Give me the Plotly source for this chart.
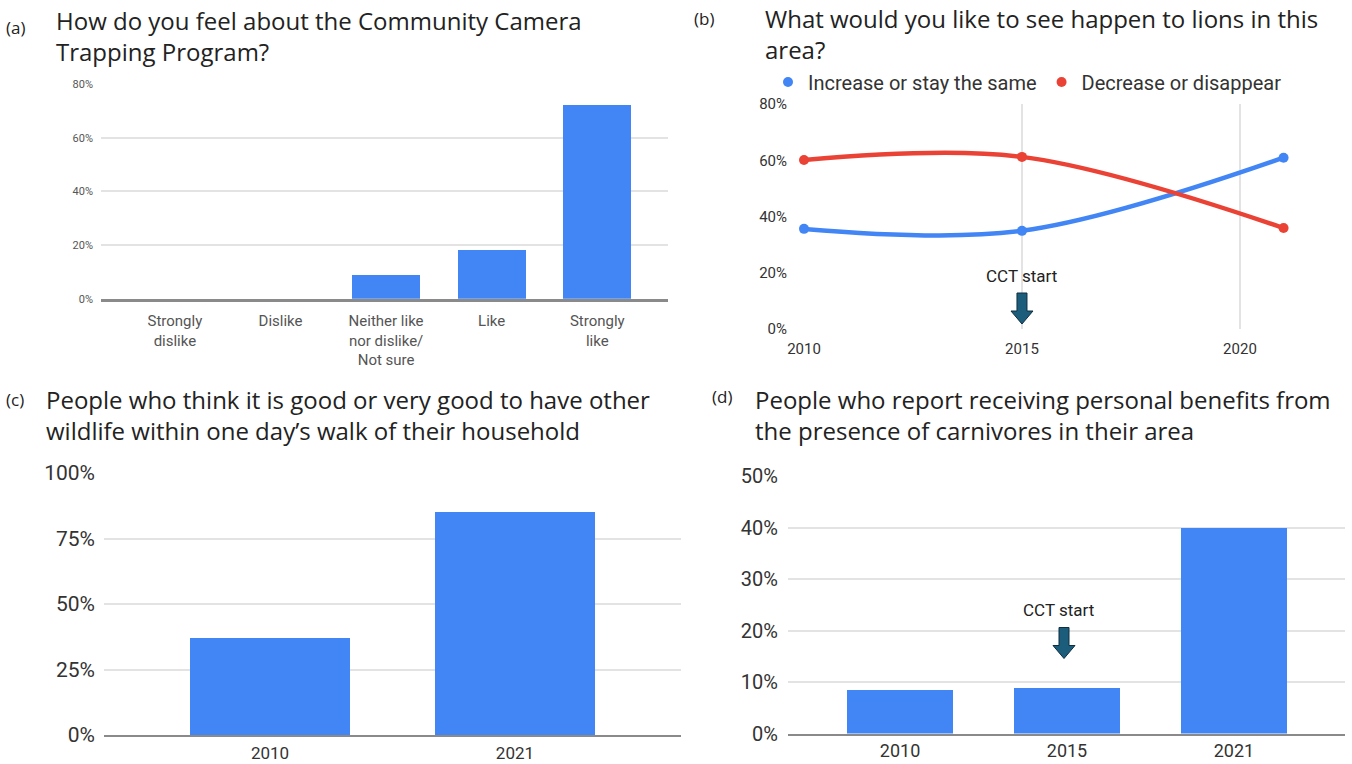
import plotly.graph_objects as go

W, H = 1352, 764

# ---------------- data ----------------
a_categories = ["Strongly<br>dislike", "Dislike", "Neither like<br>nor dislike/<br>Not sure", "Like", "Strongly<br>like"]
a_values = [0.0, 0.0, 0.09, 0.18, 0.72]

b_years = [2010, 2015, 2021]
b_increase = [0.356, 0.349, 0.609]
b_decrease = [0.601, 0.612, 0.359]

c_categories = ["2010", "2021"]
c_values = [0.37, 0.852]

d_categories = ["2010", "2015", "2021"]
d_values = [0.084, 0.089, 0.399]

BLUE = "#4285F4"
RED = "#EA4335"
GRID = "#e3e3e3"
AXIS = "#8a8a8a"
TITLE_FONT = "Open Sans, Noto Sans, sans-serif"
TICK_FONT = "Liberation Sans Narrow, Roboto, Arial, sans-serif"


def xd(p0, p1):
    return [p0 / W, p1 / W]


def yd(top, bottom):
    return [1 - bottom / H, 1 - top / H]


fig = go.Figure()

# (a) bar chart
fig.add_trace(go.Bar(x=a_categories, y=a_values, marker_color=BLUE, width=0.645,
                     xaxis="x", yaxis="y", showlegend=False))

# (b) line chart
fig.add_trace(go.Scatter(x=b_years, y=b_increase, mode="lines", line=dict(color=BLUE, width=4.5, shape="spline", smoothing=1.0),
                         xaxis="x2", yaxis="y2", showlegend=False, cliponaxis=False))
fig.add_trace(go.Scatter(x=b_years, y=b_decrease, mode="lines", line=dict(color=RED, width=4.5, shape="spline", smoothing=1.0),
                         xaxis="x2", yaxis="y2", showlegend=False, cliponaxis=False))
fig.add_trace(go.Scatter(x=b_years, y=b_increase, mode="markers", marker=dict(color=BLUE, size=10),
                         name="Increase or stay the same", xaxis="x2", yaxis="y2", cliponaxis=False))
fig.add_trace(go.Scatter(x=b_years, y=b_decrease, mode="markers", marker=dict(color=RED, size=10),
                         name="Decrease or disappear", xaxis="x2", yaxis="y2", cliponaxis=False))

# (c) bar chart
fig.add_trace(go.Bar(x=c_categories, y=c_values, marker_color=BLUE, width=0.65,
                     xaxis="x3", yaxis="y3", showlegend=False))

# (d) bar chart
fig.add_trace(go.Bar(x=d_categories, y=d_values, marker_color=BLUE, width=0.64,
                     xaxis="x4", yaxis="y4", showlegend=False))

common_y = dict(tickformat=".0%", gridcolor=GRID, gridwidth=1.5, zeroline=False, showline=False, ticks="",
                automargin=False)

layout = dict(
    template="none",
    width=W, height=H,
    margin=dict(l=0, r=0, t=0, b=0, pad=0),
    paper_bgcolor="white", plot_bgcolor="white",
    bargap=0,
    # (a)
    xaxis=dict(domain=xd(101, 668), type="category", range=[-0.70, 4.67], showgrid=False,
               showline=True, linecolor=AXIS, linewidth=2.5, ticks="", automargin=False,
               ticklabelstandoff=7,
               tickfont=dict(family=TICK_FONT, size=15, color="#555"), anchor="y"),
    yaxis=dict(domain=yd(84, 298.7), range=[0, 0.8], dtick=0.2, anchor="x", ticklabelstandoff=7,
               tickfont=dict(family=TICK_FONT, size=11, color="#555"), **common_y),
    # (b)
    xaxis2=dict(domain=xd(804, 1301), range=[2010, 2021.4], tickvals=[2010, 2015, 2020],
                showgrid=True, gridcolor=GRID, gridwidth=1.5, zeroline=False, showline=False, ticks="",
                automargin=False, ticklabelstandoff=9,
                tickfont=dict(family=TICK_FONT, size=15, color="#333"), anchor="y2"),
    yaxis2=dict(domain=yd(104, 329), range=[0, 0.8], dtick=0.2, anchor="x2", showgrid=False,
                tickformat=".0%", zeroline=False, showline=False, ticks="", automargin=False,
                ticklabelstandoff=16,
                tickfont=dict(family=TICK_FONT, size=15, color="#333")),
    # (c)
    xaxis3=dict(domain=xd(104, 681), type="category", range=[-0.678, 1.678], showgrid=False,
                showline=True, linecolor=AXIS, linewidth=2, ticks="", automargin=False,
                ticklabelstandoff=2,
                tickfont=dict(family=TICK_FONT, size=17, color="#333"), anchor="y3"),
    yaxis3=dict(domain=yd(473, 735), range=[0, 1.0], dtick=0.25, anchor="x3", ticklabelstandoff=8,
                tickfont=dict(family=TICK_FONT, size=21, color="#333"), **common_y),
    # (d)
    xaxis4=dict(domain=xd(788, 1345), type="category", range=[-0.671, 2.665], showgrid=False,
                showline=True, linecolor=AXIS, linewidth=2, ticks="", automargin=False,
                tickfont=dict(family=TICK_FONT, size=18, color="#333"), anchor="y4"),
    yaxis4=dict(domain=yd(476, 733.5), range=[0, 0.5], dtick=0.1, anchor="x4", ticklabelstandoff=9,
                tickfont=dict(family=TICK_FONT, size=20, color="#333"), **common_y),
    legend=dict(orientation="h", x=768 / W, y=1 - 82 / H, xanchor="left", yanchor="middle",
                font=dict(family="Roboto, Arial, sans-serif", size=20, color="#333"),
                bgcolor="rgba(0,0,0,0)", itemwidth=30, tracegroupgap=0),
)
fig.update_layout(**layout)
fig.update_xaxes(fixedrange=True)
fig.update_yaxes(fixedrange=True)

# titles and panel labels
def add_text(x, y, text, size, color="#222", family=TITLE_FONT):
    fig.add_annotation(x=x / W, y=1 - y / H, xref="paper", yref="paper", text=text, showarrow=False,
                       xanchor="left", yanchor="top", align="left",
                       font=dict(family=family, size=size, color=color))

add_text(4, 14, "(a)", 17)
add_text(54, 2, "How do you feel about the Community Camera<br>Trapping Program?", 24)
add_text(692, 5, "(b)", 17)
add_text(763, 0, "What would you like to see happen to lions in this<br>area?", 24)
add_text(4, 386, "(c)", 17)
add_text(44, 381, "People who think it is good or very good to have other<br>wildlife within one day\u2019s walk of their household", 24)
add_text(710, 383, "(d)", 17)
add_text(753, 381, "People who report receiving personal benefits from<br>the presence of carnivores in their area", 24)

# CCT start annotations
fig.add_annotation(x=2015, y=0.19, xref="x2", yref="y2", text="CCT start", showarrow=False,
                   xanchor="center", yanchor="middle",
                   font=dict(family="Roboto, Arial, sans-serif", size=17, color="#222"))
fig.add_annotation(x=1, y=0.24, xref="x4", yref="y4", text="CCT start", showarrow=False,
                   xanchor="center", yanchor="middle", xshift=-9,
                   font=dict(family="Roboto, Arial, sans-serif", size=17, color="#222"))

ARROW_PATH = "M -5 36 L 5 36 L 5 18 L 11 18 L 0 5 L -11 18 L -5 18 Z"
fig.add_shape(type="path", xref="x2", yref="y2", xsizemode="pixel", ysizemode="pixel",
              xanchor=2015, yanchor=0, path=ARROW_PATH,
              fillcolor="#1d5d7c", line=dict(color="#0e2f40", width=1))
fig.add_shape(type="path", xref="x4", yref="y4", xsizemode="pixel", ysizemode="pixel",
              xanchor=1, yanchor=0.0, path="M -8 106 L 2 106 L 2 88 L 8 88 L -3 75 L -14 88 L -8 88 Z",
              fillcolor="#1d5d7c", line=dict(color="#0e2f40", width=1))

fig.write_html("out.html")
